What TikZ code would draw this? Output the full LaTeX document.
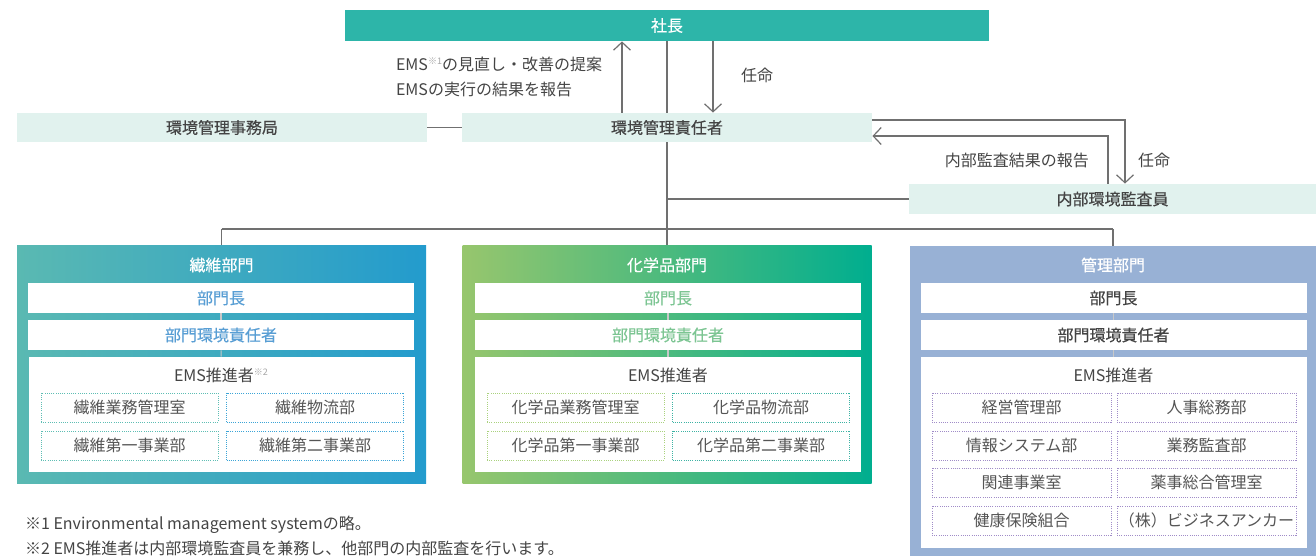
\documentclass[tikz,border=0pt]{standalone}
\usepackage{fontspec}
\setmainfont{Noto Sans CJK JP}
\newfontfamily\medfont{Noto Sans CJK JP}[FakeBold=0.45]
\usepackage{xcolor}
\usetikzlibrary{arrows.meta,positioning}

\definecolor{presc}{RGB}{45,181,169}
\definecolor{mint}{RGB}{225,242,238}
\definecolor{linec}{RGB}{112,112,112}
\definecolor{txt}{RGB}{68,68,68}
\definecolor{celltxt}{RGB}{85,85,85}
\definecolor{innerc}{RGB}{200,200,200}
\definecolor{fibL}{RGB}{90,185,178}
\definecolor{fibR}{RGB}{35,155,205}
\definecolor{fibtxt}{RGB}{88,158,212}
\definecolor{fibdotL}{RGB}{94,190,180}
\definecolor{fibdotR}{RGB}{60,165,215}
\definecolor{chmL}{RGB}{151,198,109}
\definecolor{chmR}{RGB}{0,174,143}
\definecolor{chmtxt}{RGB}{124,197,146}
\definecolor{chmdotL}{RGB}{170,210,126}
\definecolor{chmdotR}{RGB}{61,179,164}
\definecolor{admc}{RGB}{152,177,213}
\definecolor{admdot}{RGB}{160,140,200}

\begin{document}
\begin{tikzpicture}[x=0.5pt, y=-0.5pt, font=\fontsize{8}{10}\selectfont,
  line/.style={draw=linec, line width=0.6pt},
  arr/.style={line, -{Straight Barb[length=4pt,width=8.5pt]}},
  inner/.style={draw=innerc, line width=0.6pt},
  topbox/.style={rectangle, fill=mint, inner sep=0pt, minimum width=205pt, minimum height=14.5pt, text=txt, font=\fontsize{8}{10}\medfont},
  panel/.style={rectangle, inner sep=0pt, minimum width=204.5pt, minimum height=119pt},
  ptitle/.style={text=white, font=\fontsize{8}{10}\medfont},
  wbox/.style={rectangle, fill=white, inner sep=0pt, minimum width=193pt, minimum height=15pt, font=\fontsize{8}{10}\medfont},
  cell/.style={rectangle, draw, line width=0.5pt, dash pattern=on 0.5pt off 0.6pt, inner sep=0pt, minimum width=88.5pt, minimum height=14.5pt, text=celltxt},
  lab/.style={text=txt}]
\useasboundingbox (0,0) rectangle (1316,556);

% top part
\node[rectangle, fill=presc, inner sep=0pt, minimum width=322pt, minimum height=15.5pt, text=white, font=\fontsize{8}{10}\medfont] (pres) at (667,25.5) {社長};
\node[topbox] (office) at (222,127.5) {環境管理事務局};
\node[topbox] (emr) at (667,127.5) {環境管理責任者};
\node[topbox, minimum width=203.5pt, minimum height=15pt] (aud) at (1112.5,199) {内部環境監査員};

\coordinate (upx) at (622,0);
\coordinate (mid) at (667,0);
\coordinate (dnx) at (713,0);
\coordinate (rA) at (1125,120);
\coordinate (rB) at (1108,136);
\coordinate (bus) at (667,229);

\node[lab, anchor=west, align=left, font=\fontsize{8}{12.5}\selectfont] (prop) at (389,76.5) {EMS\raisebox{3pt}{\textcolor{gray!70}{\fontsize{4.5}{5}\selectfont ※1}}の見直し・改善の提案\\EMSの実行の結果を報告};
\node[lab, anchor=west] (apt1) at (734,75) {任命};
\node[lab, anchor=east] (rep) at (1096,160) {内部監査結果の報告};
\node[lab, anchor=west] (apt2) at (1131,160) {任命};

\draw[arr] (emr.north -| upx) -- (pres.south -| upx);
\draw[arr] (pres.south -| dnx) -- (emr.north -| dnx);
\path[line] (pres.south -| mid) edge (emr.north -| mid)
  (emr.south -| mid) edge (bus)
  (office.east) edge (emr.west)
  (mid |- aud.west) edge (aud.west);
\draw[arr] (emr.east |- rA) -| (aud.north -| rA);
\draw[arr] (aud.north -| rB) |- (emr.east |- rB);

% panels
\node[panel, left color=fibL, right color=fibR] (pa) at (221.5,364) {};
\node[panel, left color=chmL, right color=chmR] (pb) at (667,364) {};
\node[panel, fill=admc, minimum width=203pt, minimum height=162pt] (pc) at (1113,408) {};
\path[line] (pa.north |- bus) edge (pc.north |- bus)
  (pa.north |- bus) edge (pa.north)
  (bus) edge (pb.north)
  (pc.north |- bus) edge (pc.north);

\node[ptitle] (ta) at (221.5,265) {繊維部門};
\node[ptitle] (tb) at (667,265) {化学品部門};
\node[ptitle] (tc) at (1113,265) {管理部門};

% fibre
\node[wbox, text=fibtxt] (heada) at (221,298) {部門長};
\node[wbox, text=fibtxt] (respa) at (221,335) {部門環境責任者};
\node[wbox, minimum height=57.5pt] (emsa) at (221.5,414.5) {};
\path[inner] (heada) edge (respa) (respa) edge (emsa);
\node[text=txt] (ea) at (221,375) {EMS推進者\raisebox{3pt}{\textcolor{gray!70}{\fontsize{4.5}{5}\selectfont ※2}}};
\node[cell, draw=fibdotL] (a1) at (129.5,407.5) {繊維業務管理室};
\node[cell, draw=fibdotR] (a2) at (315,407.5) {繊維物流部};
\node[cell, draw=fibdotL] (a3) at (129.5,445.5) {繊維第一事業部};
\node[cell, draw=fibdotR] (a4) at (315,445.5) {繊維第二事業部};

% chemicals
\node[wbox, text=chmtxt] (headb) at (668,298) {部門長};
\node[wbox, text=chmtxt] (respb) at (668,335) {部門環境責任者};
\node[wbox, minimum height=57.5pt] (emsb) at (668,414.5) {};
\path[inner] (headb) edge (respb) (respb) edge (emsb);
\node[text=txt] (eb) at (668,375) {EMS推進者};
\node[cell, draw=chmdotL] (b1) at (575.5,407.5) {化学品業務管理室};
\node[cell, draw=chmdotR] (b2) at (761,407.5) {化学品物流部};
\node[cell, draw=chmdotL] (b3) at (575.5,445.5) {化学品第一事業部};
\node[cell, draw=chmdotR] (b4) at (761,445.5) {化学品第二事業部};

% administration
\node[wbox, text=txt] (headc) at (1113.5,298) {部門長};
\node[wbox, text=txt] (respc) at (1113.5,335) {部門環境責任者};
\node[wbox, minimum height=95.5pt] (emsc) at (1113.5,452.5) {};
\path[inner] (headc) edge (respc) (respc) edge (emsc);
\node[text=txt] (ec) at (1113.5,375) {EMS推進者};
\node[cell, draw=admdot, minimum width=89.5pt] (c1) at (1021.5,407.5) {経営管理部};
\node[cell, draw=admdot, minimum width=89.5pt] (c2) at (1206.5,407.5) {人事総務部};
\node[cell, draw=admdot, minimum width=89.5pt] (c3) at (1021.5,445.5) {情報システム部};
\node[cell, draw=admdot, minimum width=89.5pt] (c4) at (1206.5,445.5) {業務監査部};
\node[cell, draw=admdot, minimum width=89.5pt] (c5) at (1021.5,482.5) {関連事業室};
\node[cell, draw=admdot, minimum width=89.5pt] (c6) at (1206.5,482.5) {薬事総合管理室};
\node[cell, draw=admdot, minimum width=89.5pt] (c7) at (1021.5,520.5) {健康保険組合};
\node[cell, draw=admdot, minimum width=89.5pt] (c8) at (1206.5,520.5) {（株）ビジネスアンカー};

% notes
\node[lab, anchor=west] (fn1) at (18,525) {※1 Environmental management systemの略。};
\node[lab, anchor=west] (fn2) at (18,548) {※2 EMS推進者は内部環境監査員を兼務し、他部門の内部監査を行います。};
\end{tikzpicture}
\end{document}
